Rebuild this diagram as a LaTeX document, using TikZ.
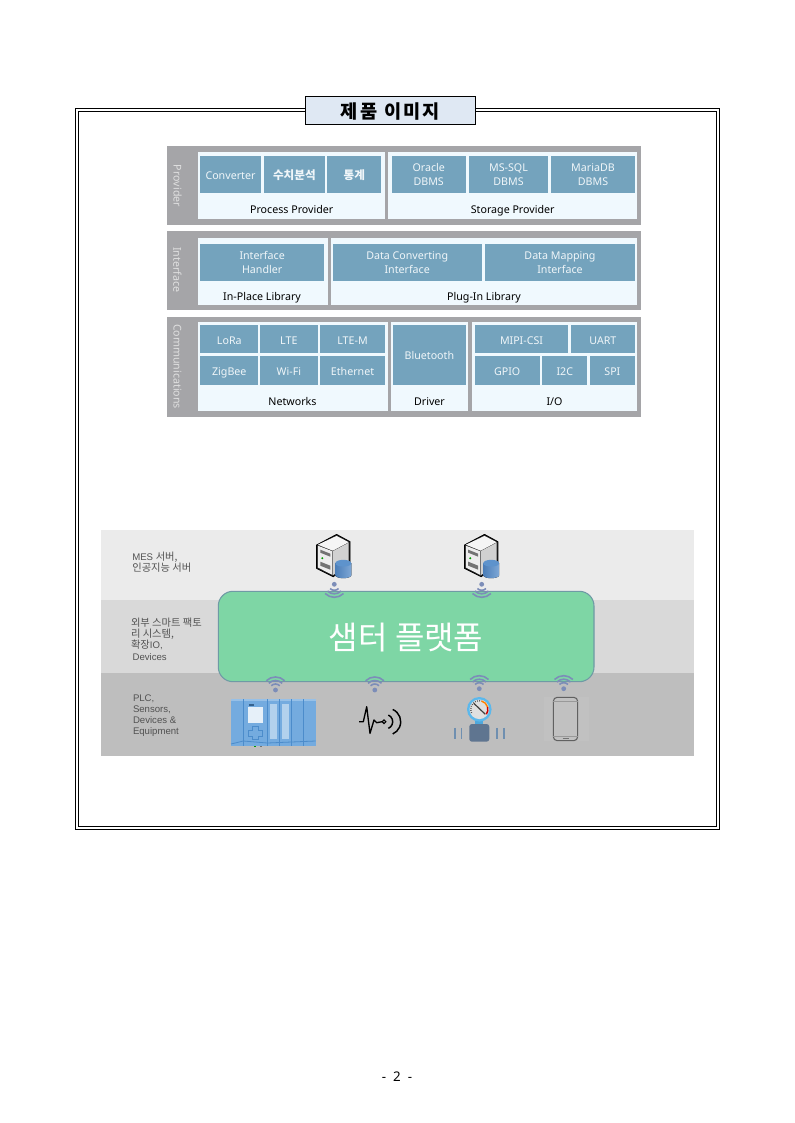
\documentclass[tikz,border=0pt]{standalone}
\usepackage{fontspec}
\setmainfont{Noto Sans}
\newfontfamily\kofont{Noto Sans CJK KR}
\newfontfamily\kolbl[Scale=1.07]{Noto Sans CJK KR}
\newfontfamily\lblfont{Liberation Sans}
\newcommand{\ko}[1]{{\kolbl #1}}
\definecolor{panelgray}{HTML}{A5A5A8}
\definecolor{cellwhite}{HTML}{F0F9FE}
\definecolor{cellblue}{HTML}{74A3BD}
\definecolor{celltext}{HTML}{F0F6F9}
\definecolor{titleblue}{HTML}{DFE8F3}
\definecolor{bandone}{HTML}{EBEBEB}
\definecolor{bandtwo}{HTML}{D9D9D9}
\definecolor{bandthree}{HTML}{BEBEBE}
\definecolor{platgreen}{HTML}{7ED6A5}
\definecolor{platedge}{HTML}{6F9AA5}
\definecolor{wifiblue}{HTML}{7C8DB8}
\definecolor{plcblue}{HTML}{74ABDF}
\definecolor{plcdark}{HTML}{4C8CCB}
\definecolor{gaugering}{HTML}{5BB8EC}
\definecolor{gaugeneck}{HTML}{4FA8DC}
\definecolor{gaugebody}{HTML}{5F7590}
\definecolor{gaugebar}{HTML}{6F8FB0}
\definecolor{drumside}{HTML}{4A7DB8}
\definecolor{drumlight}{HTML}{7FA8D6}
\definecolor{drumtop}{HTML}{5E93CC}
\tikzset{
  wh/.style 2 args={minimum width=#1*0.75pt, minimum height=#2*0.75pt},
  wifipic/.pic={
    \fill [wifiblue] (0,0) circle (2.4);
    \foreach \r in {6,9.5,13}
      \draw [wifiblue, line width=1.2pt] (225:\r) arc [start angle=225, end angle=315, radius=\r];
  },
  serverpic/.pic={
    \draw [fill=black!85, line width=0.6pt, line join=round] (3.3,-21.3) -- (16.7,-14) -- (16.7,8) -- (0,21) -- (-16.7,12.7) -- (-16.7,-10.7) -- cycle;
    \fill [white!96!black] (3.3,-19.8) -- (15.4,-13.5) -- (-0.5,-5) -- (-15.4,-11) -- cycle;
    \fill [black!18] (15.4,-13) -- (15.4,8) -- (-0.5,19.6) -- (-0.5,-4.5) -- cycle;
    \fill [black!7] (-15.4,-10) -- (-1,-4.5) -- (-1,19.2) -- (-15.4,11.8) -- cycle;
    \fill [black!55] (-13,-6) -- (-3,-2) -- (-3,1) -- (-13,-3) -- cycle;
    \fill [black!55] (-13,6) -- (-3,10) -- (-3,14) -- (-13,10) -- cycle;
    \fill [green!60!black] (-11,2.5) circle (1.1);
    \fill [left color=drumside, right color=drumlight] (2,7.5) -- (2,19.5) arc [start angle=180, end angle=0, x radius=8, y radius=3] -- (18,7.5) -- cycle;
    \fill [drumtop] (10,7.5) ellipse (8 and 3.4);
  },
  plcpic/.pic={
    \fill [plcblue] (0,0) rectangle (84.7,47);
    \fill [plcblue!75!white] (0,0) rectangle (84.7,2);
    \foreach \xx in {12.3,36.3,48.3,60.7,72.3}
      \draw [plcdark, line width=0.8pt] (\xx,0) -- (\xx,47);
    \draw [plcdark, line width=0.6pt] (0,45) -- (12.3,42) -- (36.3,44) -- (84.7,42);
    \fill [white!82!plcblue] (17.3,7.7) rectangle (31.7,24.3);
    \fill [plcdark!70!black] (18,5) rectangle (23,6.8);
    \draw [plcdark, line width=0.5pt] (21,27.5) -- (27,27.5) -- (27,31) -- (31,31) -- (31,37) -- (27,37) -- (27,40) -- (21,40) -- (21,37) -- (17.5,37) -- (17.5,31) -- (21,31) -- cycle;
    \fill [white!45!plcblue] (39,5) rectangle (46,40);
    \fill [white!45!plcblue] (51,5) rectangle (58,40);
    \fill [green!60!black] (23,47) rectangle (25,48.3);
    \fill [black!55] (29,47) rectangle (31,48.3);
  },
  pulsepic/.pic={
    \draw [black, line width=1pt, line join=round] (-20,0) -- (-15.7,0) -- (-12.3,-15) -- (-9,11.7) -- (-5,-1.7) -- (-2.3,1) -- (3,0);
    \draw [black, line width=0.8pt] (5,0) circle (1.8);
    \draw [black, line width=1.1pt] (6.4,0) ++(-66:7.3) arc [start angle=-66, end angle=66, radius=7.3];
    \draw [black, line width=1.1pt] (8.3,0) ++(-66:13.4) arc [start angle=-66, end angle=66, radius=13.4];
  },
  gaugepic/.pic={
    \fill [gaugeneck] (-4,10) rectangle (4,16);
    \fill [gaugering] (0,0) circle (12.3);
    \fill [black!12] (0,0) circle (9.8);
    \draw [black!65, line width=1pt, dash pattern=on 0.6pt off 1pt] (155:8.6) arc [start angle=155, end angle=285, radius=8.6];
    \draw [orange, line width=1.1pt] (285:8.6) arc [start angle=285, end angle=345, radius=8.6];
    \draw [red!80!black, line width=1.1pt] (345:8.6) arc [start angle=345, end angle=395, radius=8.6];
    \draw [black!75, line width=0.9pt] (-5.5,-6) -- (6,5);
    \fill [gaugebody, rounded corners=2pt] (-10,14.7) rectangle (10,32.4);
    \foreach \xx in {-24.5,-17.8,17.8,24.5}
      \draw [gaugebar, line width=1.3pt] (\xx,18.5) -- (\xx,30);
  },
  phonepic/.pic={
    \fill [bandthree!96!white] (-22,-22) rectangle (23,22);
    \draw [black!62, line width=0.8pt, rounded corners=3pt] (-12.2,-21.7) rectangle (12.2,21.7);
    \draw [black!40, line width=0.5pt] (-12.2,-18) -- (12.2,-18);
    \draw [black!40, line width=0.5pt] (-12.2,17.5) -- (12.2,17.5);
    \draw [black!55, line width=0.6pt] (-3,19.6) -- (3,19.6);
  }
}
\begin{document}
\begin{tikzpicture}[x=0.75pt, y=-0.75pt, every node/.style={inner sep=0pt, outer sep=0pt}]
    \tikzstyle{panel} = [rectangle, fill=panelgray, anchor=north west]
    \tikzstyle{sheet} = [rectangle, fill=cellwhite, anchor=north west]
    \tikzstyle{cell} = [rectangle, fill=cellblue, anchor=north west, text=celltext, align=center, font=\fontsize{8pt}{10.4pt}\selectfont]
    \tikzstyle{oneline} = [text height=7.5pt, text depth=0pt]
    \tikzstyle{twoline} = [text depth=-1.5pt]
    \tikzstyle{hangul} = [font=\kofont\bfseries\fontsize{8.7pt}{10pt}\selectfont]
    \tikzstyle{caption} = [text=black, text height=6.5pt, text depth=1.5pt, font=\fontsize{8pt}{10pt}\selectfont]
    \tikzstyle{sidelabel} = [text=black!12, rotate=-90, font=\fontsize{8pt}{10pt}\selectfont]
    \tikzstyle{band} = [rectangle, anchor=north west]
    \tikzstyle{bandlabel} = [anchor=west, align=left, text=black!68, font=\lblfont\fontsize{7.2pt}{8.4pt}\selectfont]
    \useasboundingbox (0,0) rectangle (794,1123);

    % double frame with title
    \draw [black, line width=0.75pt] (75.5,108.5) rectangle (719.5,829.5);
    \draw [black, line width=0.75pt] (78.5,111.5) rectangle (716.5,826.5);
    \node (title) [draw=black, line width=0.75pt, fill=titleblue, anchor=north west, wh={170}{28}, text depth=0pt, font=\kofont\bfseries\fontsize{14pt}{16pt}\selectfont] at (305.5,96.5) {\addfontfeature{LetterSpace=12}제품 이미지};

    % provider
    \node (providerPanel) [panel, wh={474}{79.5}] at (166.7,145.7) {};
    \node (providerLabel) [sidelabel] at (177.5,186) {Provider};
    \node (processSheet) [sheet, wh={187}{67.3}] at (197.7,151.7) {};
    \node (storageSheet) [sheet, wh={249.3}{67.3}] at (388,151.7) {};
    \node (converter) [cell, oneline, wh={60.4}{37}] at (200.3,156.3) {Converter};
    \node (analysis) [cell, hangul, oneline, wh={61.3}{37}] at (263.7,156.3) {수치분석};
    \node (statistics) [cell, hangul, oneline, wh={54}{37}] at (327.3,156.3) {통계};
    \node (oracle) [cell, twoline, wh={74}{37}] at (391.7,156.3) {Oracle\\DBMS};
    \node (mssql) [cell, twoline, wh={79.6}{37}] at (468.7,156.3) {MS-SQL\\DBMS};
    \node (mariadb) [cell, twoline, wh={84}{37}] at (551,156.3) {MariaDB\\DBMS};
    \node (processCap) [caption] at (291.7,210.5) {Process Provider};
    \node (storageCap) [caption] at (512.7,210.5) {Storage Provider};

    % interface
    \node (interfacePanel) [panel, wh={474}{79.3}] at (166.7,231) {};
    \node (interfaceLabel) [sidelabel] at (177.5,270) {Interface};
    \node (inplaceSheet) [sheet, wh={130}{67.3}] at (197.7,237.7) {};
    \node (pluginSheet) [sheet, wh={306.6}{67.3}] at (330.7,237.7) {};
    \node (handler) [cell, twoline, wh={123.7}{36.7}] at (200.3,244) {Interface\\Handler};
    \node (converting) [cell, twoline, wh={149}{36.7}] at (332.7,244) {Data Converting\\Interface};
    \node (mapping) [cell, twoline, wh={150}{36.7}] at (485,244) {Data Mapping\\Interface};
    \node (inplaceCap) [caption] at (262,296.7) {In-Place Library};
    \node (pluginCap) [caption] at (484,296.7) {Plug-In Library};

    % communications
    \node (commPanel) [panel, wh={474}{100.6}] at (166.7,316.7) {};
    \node (commLabel) [sidelabel] at (177.5,366.5) {Communications};
    \node (networkSheet) [sheet, wh={190}{88.7}] at (197.7,322.3) {};
    \node (driverSheet) [sheet, wh={77}{88.7}] at (391.3,322.3) {};
    \node (ioSheet) [sheet, wh={165.3}{88.7}] at (472,322.3) {};
    \node (lora) [cell, oneline, wh={58}{28.6}] at (200.3,324.7) {LoRa};
    \node (lte) [cell, oneline, wh={57.7}{28.6}] at (260,324.7) {LTE};
    \node (ltem) [cell, oneline, wh={65}{28.6}] at (320,324.7) {LTE-M};
    \node (zigbee) [cell, oneline, wh={58}{29}] at (200.3,355.7) {ZigBee};
    \node (wifi) [cell, oneline, wh={57.7}{29}] at (260,355.7) {Wi-Fi};
    \node (ethernet) [cell, oneline, wh={65}{29}] at (320,355.7) {Ethernet};
    \node (bluetooth) [cell, oneline, wh={72.7}{60}] at (393,324.7) {Bluetooth};
    \node (mipi) [cell, oneline, wh={93.6}{28.6}] at (474.7,324.7) {MIPI-CSI};
    \node (uart) [cell, oneline, wh={64.3}{28.6}] at (570.7,324.7) {UART};
    \node (gpio) [cell, oneline, wh={65}{29}] at (474.7,355.7) {GPIO};
    \node (itwoc) [cell, oneline, wh={45}{29}] at (542.3,355.7) {I2C};
    \node (spi) [cell, oneline, wh={45.3}{29}] at (589.7,355.7) {SPI};
    \node (networkCap) [caption] at (292.5,402) {Networks};
    \node (driverCap) [caption] at (429.5,402) {Driver};
    \node (ioCap) [caption] at (554.5,402) {I/O};

    % platform bands
    \node (bandTop) [band, fill=bandone, wh={593}{70.6}] at (101,529.7) {};
    \node (bandMid) [band, fill=bandtwo, wh={593}{72.4}] at (101,600.3) {};
    \node (bandLow) [band, fill=bandthree, wh={593}{83}] at (101,672.7) {};
    \node (mesLabel) [bandlabel] at (132.3,562.5) {MES \ko{서버,}\\\ko{인공지능 서버}};
    \node (smartLabel) [bandlabel] at (131,639) {\ko{외부 스마트 팩토}\\\ko{리 시스템,}\\\ko{확장}IO,\\\,Devices};
    \node (plcLabel) [bandlabel] at (133,715.5) {PLC,\\Sensors,\\Devices \&\\Equipment};

    \node (platform) [rectangle, rounded corners=11pt, draw=platedge, line width=0.8pt, fill=platgreen, text=white, anchor=north west, wh={375.7}{90.4}, text depth=0pt, font=\kofont\fontsize{24pt}{28pt}\selectfont] at (218.3,591.3) {샘터 플랫폼};

    % icons
    \pic at (333.3,555.7) {serverpic};
    \pic at (481.2,555.7) {serverpic};
    \pic [yscale=-1] at (334.3,584.3) {wifipic};
    \pic [yscale=-1] at (481.7,584.3) {wifipic};
    \pic at (275.5,690) {wifipic};
    \pic at (374.8,690) {wifipic};
    \pic at (479.3,688.7) {wifipic};
    \pic at (563.7,688.7) {wifipic};
    \pic at (231,699) {plcpic};
    \pic at (379,721.7) {pulsepic};
    \pic at (479.3,709.3) {gaugepic};
    \pic at (565.5,719) {phonepic};

    \node (pageNo) [font=\fontsize{10pt}{12pt}\selectfont] at (397,1077) {-\ \ 2\ \ -};
\end{tikzpicture}
\end{document}
